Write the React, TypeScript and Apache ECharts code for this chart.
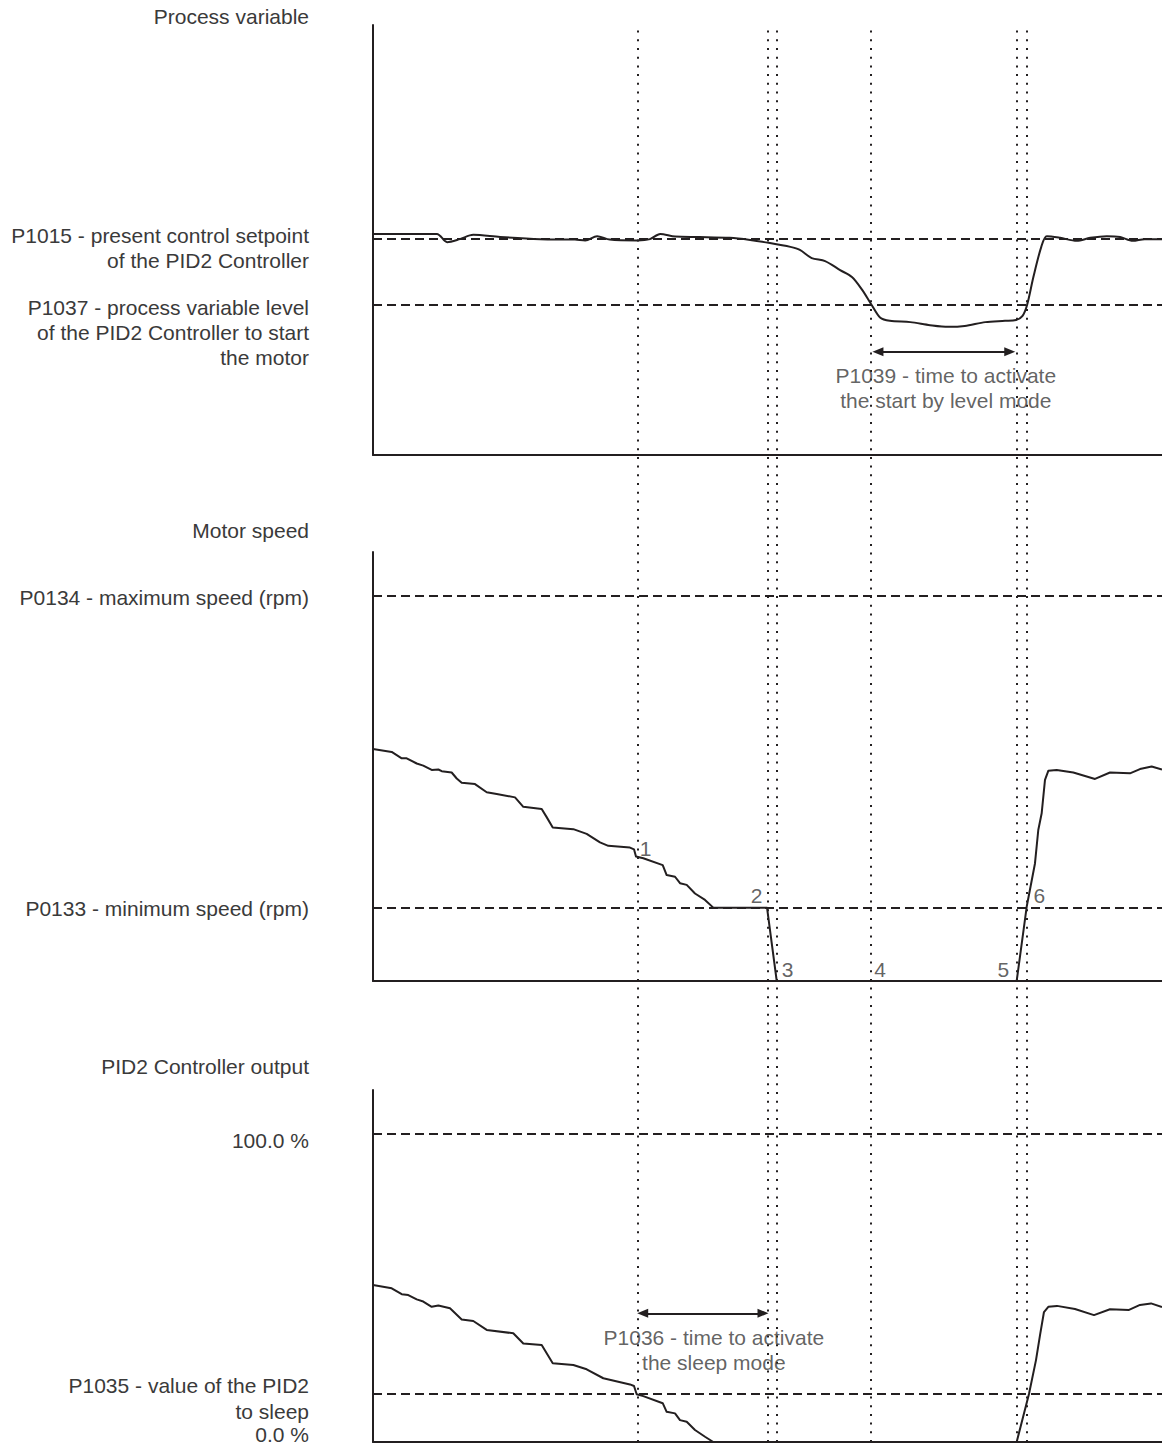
import React, { useEffect, useRef } from 'react';
import * as echarts from 'echarts';

const FONT = '"Liberation Sans", Arial, Helvetica, sans-serif';
const INK = '#231f20';
const TEXT = '#3a3a3a';

// time axis (arbitrary units)
const T_MIN = 0;
const T_MAX = 100;

// Panel 1: process variable
const processVariable: [number, number][] = [
  [0, 51.4], [8.1, 51.4], [9.4, 49.5], [11.0, 50.2], [12.7, 51.2], [16.1, 50.7], [21.2, 50.2],
  [25.6, 50.1], [26.9, 49.9], [28.4, 50.9], [30.0, 50.1], [33.5, 49.9], [35.1, 50.2], [36.4, 51.4],
  [38.3, 50.8], [41.4, 50.7], [45.2, 50.5], [47.8, 50.0], [50.3, 49.3], [52.9, 48.4], [54.1, 47.7],
  [55.6, 45.8], [57.3, 45.1], [59.2, 43.0], [60.7, 41.4], [62.0, 38.4], [63.2, 34.9], [64.3, 31.9],
  [65.5, 31.2], [68.1, 30.9], [70.6, 30.2], [72.9, 29.8], [75.0, 30.0], [77.6, 30.9], [80.1, 31.2],
  [81.5, 31.4], [82.3, 32.3], [82.9, 34.9], [83.7, 41.4], [84.7, 48.4], [85.4, 50.9], [87.1, 50.5],
  [89.2, 49.8], [90.9, 50.5], [93.0, 50.9], [94.7, 50.7], [96.3, 49.8], [97.8, 50.2], [100, 50.2],
];
const pvSetpoint = 50.2;
const pvStartLevel = 35.0;

// Panel 2: motor speed
const motorSpeed: [number, number][] = [
  [0, 54.1], [2.37, 53.4], [3.64, 51.9], [4.27, 51.9], [5.54, 50.7], [6.37, 50.2], [7.44, 49.2],
  [8.28, 49.3], [8.71, 48.9], [9.97, 48.6], [10.61, 47.2], [11.24, 46.2], [12.93, 45.9], [14.41, 44.0],
  [15.68, 43.6], [18.0, 42.8], [19.05, 40.6], [21.38, 40.1], [22.01, 38.2], [22.78, 35.8], [25.39, 35.4],
  [27.08, 34.3], [28.77, 32.3], [29.82, 31.5], [32.57, 31.1], [33.08, 30.7], [33.33, 29.0], [34.26, 28.6],
  [36.72, 27.0], [37.22, 24.7], [38.28, 24.3], [38.91, 22.8], [39.76, 22.4], [40.81, 20.4], [42.08, 18.9],
  [43.13, 17.1], [49.94, 17.1], [51.17, 0], [81.58, 0], [82.85, 17.3], [83.9, 27.4], [84.32, 35.2],
  [84.75, 39.1], [85.17, 46.9], [85.59, 49.0], [86.65, 49.2], [88.76, 48.6], [91.51, 47.1], [93.41, 48.6],
  [95.94, 48.4], [97.21, 49.4], [98.69, 50.0], [100, 49.3],
];
const speedMax = 89.7;
const speedMin = 17.1;

// Panel 3: PID2 controller output (%)
const pidOutput: [number, number][] = [
  [0, 51.0], [2.37, 49.9], [3.64, 48.0], [4.47, 47.7], [5.54, 46.3], [6.37, 45.6], [7.44, 43.9],
  [8.28, 44.3], [9.76, 43.4], [11.24, 39.8], [12.71, 39.3], [14.41, 36.4], [17.78, 35.3], [19.05, 32.0],
  [21.38, 31.5], [22.78, 25.6], [25.39, 25.0], [27.08, 23.6], [29.19, 20.7], [32.57, 18.7], [33.08, 18.2],
  [33.42, 15.5], [34.26, 14.9], [36.72, 12.6], [37.22, 9.8], [38.28, 9.3], [38.91, 7.1], [39.76, 6.6],
  [40.81, 3.9], [42.08, 1.7], [43.13, 0], [81.58, 0], [83.14, 15.6], [84.03, 26.6], [84.54, 34.7],
  [85.04, 42.2], [85.59, 43.9], [86.69, 44.2], [88.97, 43.2], [91.38, 41.2], [93.41, 43.1], [95.82, 42.9],
  [97.21, 44.5], [98.61, 45.0], [100, 43.8],
];
const pidFull = 100;
const pidSleep = 15.6;
const pidAxisMax = 114.3;

// event instants (vertical dotted lines)
const eventTimes = [33.55, 50.06, 51.2, 63.12, 81.58, 82.8];

// timers (double arrows)
const levelTimer = { from: 64.0, to: 80.7, level: 24.0 };
const sleepTimer = { from: 34.18, to: 49.43, level: 41.8 };

// numbered instants
const eventLabels = ['1', '2', '3', '4', '5', '6'];
const eventLabelTimes = [34.56, 48.63, 52.56, 64.26, 79.88, 84.45];
const eventLabelValues = [30.9, 20.0, 2.6, 2.6, 2.6, 20.0];

const lineStyle = { color: INK, width: 2 };
const dashed = { color: INK, width: 2, type: [9, 5] as number[] };

function axisPair(gridIndex: number, yMax: number, show = true) {
  return {
    x: {
      type: 'value', gridIndex, min: T_MIN, max: T_MAX, show,
      axisLine: { show: true, onZero: false, lineStyle: { color: INK, width: 2 } },
      axisTick: { show: false }, axisLabel: { show: false }, splitLine: { show: false },
    },
    y: {
      type: 'value', gridIndex, min: 0, max: yMax, show,
      axisLine: { show: true, onZero: false, lineStyle: { color: INK, width: 2 } },
      axisTick: { show: false }, axisLabel: { show: false }, splitLine: { show: false },
    },
  };
}

function textLabelSeries(xi: number, items: { name: string; value: [number, number] }[]) {
  return {
    type: 'scatter', xAxisIndex: xi, yAxisIndex: xi, silent: true, z: 5,
    symbolSize: 1, itemStyle: { color: 'rgba(0,0,0,0)' },
    data: items,
    label: {
      show: true, position: 'inside', formatter: '{b}',
      fontSize: 21, lineHeight: 25, fontFamily: FONT, color: TEXT, align: 'center',
    },
  };
}

function arrowSeries(xi: number, t: { from: number; to: number; level: number }) {
  return {
    type: 'line', xAxisIndex: xi, yAxisIndex: xi, data: [], silent: true,
    markLine: {
      silent: true, symbol: ['triangle', 'triangle'], symbolSize: [9, 11],
      label: { show: false }, lineStyle: { color: INK, width: 2, type: 'solid' },
      data: [[{ coord: [t.from, t.level] }, { coord: [t.to, t.level] }]],
    },
  };
}

const leftLabels: { text: string; y: number }[] = [
  { text: 'Process variable', y: 16 },
  { text: 'P1015 - present control setpoint', y: 235 },
  { text: 'of the PID2 Controller', y: 260 },
  { text: 'P1037 - process variable level', y: 307 },
  { text: 'of the PID2 Controller to start', y: 332 },
  { text: 'the motor', y: 357 },
  { text: 'Motor speed', y: 530 },
  { text: 'P0134 - maximum speed (rpm)', y: 597 },
  { text: 'P0133 - minimum speed (rpm)', y: 908 },
  { text: 'PID2 Controller output', y: 1066 },
  { text: '100.0 %', y: 1140 },
  { text: 'P1035 - value of the PID2', y: 1385 },
  { text: 'to sleep', y: 1411 },
  { text: '0.0 %', y: 1434 },
];

export default function App() {
  const ref = useRef<HTMLDivElement>(null);
  useEffect(() => {
    if (!ref.current) return;
    const chart = echarts.init(ref.current, null, { renderer: 'svg' });
    const a0 = axisPair(0, 100);
    const a1 = axisPair(1, 100);
    const a2 = axisPair(2, pidAxisMax);
    const a3 = axisPair(3, 1, false);
    chart.setOption({
      animation: false,
      backgroundColor: '#ffffff',
      grid: [
        { left: 373, right: 0, top: 25, height: 430 },
        { left: 373, right: 0, top: 552, height: 429 },
        { left: 373, right: 0, top: 1090, height: 352 },
        { left: 373, right: 0, top: 28, height: 1414 },
      ],
      xAxis: [a0.x, a1.x, a2.x, a3.x],
      yAxis: [a0.y, a1.y, a2.y, a3.y],
      graphic: leftLabels.map((l) => ({
        type: 'text', x: 309, y: l.y, silent: true,
        style: {
          text: l.text, align: 'right', verticalAlign: 'middle',
          fontSize: 21, fontFamily: FONT, fill: TEXT,
        },
      })),
      series: [
        {
          type: 'line', xAxisIndex: 0, yAxisIndex: 0, data: processVariable, symbol: 'none',
          smooth: 0.3, lineStyle, z: 3,
          markLine: {
            silent: true, symbol: 'none', label: { show: false }, lineStyle: dashed,
            data: [{ yAxis: pvSetpoint }, { yAxis: pvStartLevel }],
          },
        },
        {
          type: 'line', xAxisIndex: 1, yAxisIndex: 1, data: motorSpeed, symbol: 'none',
          smooth: false, lineStyle: { ...lineStyle, join: 'round' }, z: 3,
          markLine: {
            silent: true, symbol: 'none', label: { show: false }, lineStyle: dashed,
            data: [{ yAxis: speedMax }, { yAxis: speedMin }],
          },
        },
        {
          type: 'line', xAxisIndex: 2, yAxisIndex: 2, data: pidOutput, symbol: 'none',
          smooth: false, lineStyle: { ...lineStyle, join: 'round' }, z: 3,
          markLine: {
            silent: true, symbol: 'none', label: { show: false }, lineStyle: dashed,
            data: [{ yAxis: pidFull }, { yAxis: pidSleep }],
          },
        },
        {
          type: 'line', xAxisIndex: 3, yAxisIndex: 3, data: [], silent: true,
          markLine: {
            silent: true, symbol: 'none', label: { show: false },
            lineStyle: { color: INK, width: 2, type: [2, 6.7] },
            data: eventTimes.map((t) => ({ xAxis: t })),
          },
        },
        arrowSeries(0, levelTimer),
        arrowSeries(2, sleepTimer),
        textLabelSeries(0, [{ name: 'P1039 - time to activate\nthe start by level mode', value: [72.6, 15.5] }]),
        textLabelSeries(2, [{ name: 'P1036 - time to activate\nthe sleep mode', value: [43.2, 30.0] }]),
        textLabelSeries(
          1,
          eventLabels.map((n, i) => ({ name: n, value: [eventLabelTimes[i], eventLabelValues[i]] as [number, number] })),
        ),
      ],
    });
    return () => chart.dispose();
  }, []);
  return (
    <div
      ref={ref}
      style={{ position: 'absolute', left: 0, top: 0, width: 1162, height: 1452, background: '#fff' }}
    />
  );
}
